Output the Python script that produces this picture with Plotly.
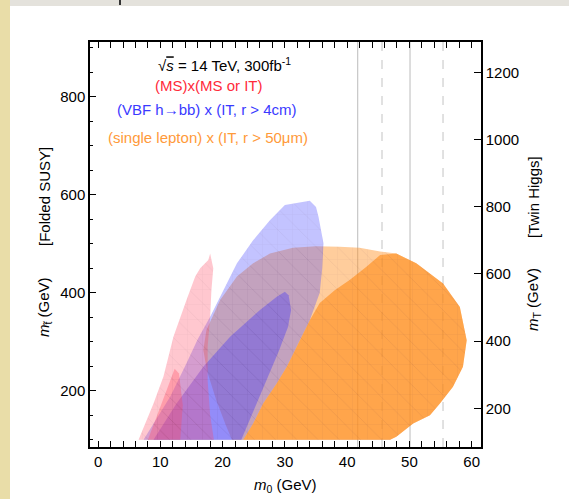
import plotly.graph_objects as go

# ---- reach regions in the (m0, m_stop) plane ----
# (MS)x(MS or IT): outer and inner contours
red_outer_x = [6.5, 8.9, 10.5, 12.1, 14.2, 15.6, 16.4, 17.7, 18.0, 18.5, 18.2, 18.0, 17.6, 17.6, 18.0, 18.6]
red_outer_y = [100, 174, 229, 310, 385, 433, 450, 467, 480, 450, 405, 351, 290, 220, 150, 100]
red_inner_x = [8.0, 9.5, 11.0, 12.3, 13.0, 13.6, 13.2]
red_inner_y = [100, 150, 200, 245, 235, 170, 100]

# (VBF h->bb) x (IT, r > 4cm)
blue_outer_x = [7.3, 9.5, 11.6, 14.2, 16.0, 18.0, 20.1, 22.3, 24.9, 27.6, 30.0, 32.0, 34.0, 35.0, 35.4,
                36.2, 36.0, 35.6, 34.0, 32.4, 30.3, 28.7, 26.5, 24.9, 23.3]
blue_outer_y = [100, 145, 188, 256, 305, 351, 405, 460, 507, 548, 579, 583, 588, 575, 555,
                501, 450, 400, 344, 303, 249, 215, 174, 133, 100]
blue_inner_x = [8.9, 12.6, 16.9, 21.2, 26.0, 28.7, 30.0, 30.6, 31.0, 30.5, 29.0, 27.0, 25.0, 23.0]
blue_inner_y = [100, 174, 249, 310, 365, 392, 402, 395, 365, 330, 280, 220, 160, 100]

# (single lepton) x (IT, r > 50 um)
orange_outer_x = [21.5, 20.5, 19.0, 17.5, 16.9, 17.4, 19.6, 22.3, 24.9, 27.6, 31.3, 35.0, 38.8, 42.0, 45.3,
                  47.9, 51.1, 55.4, 58.1, 59.2, 58.6, 57.0, 54.9, 53.3, 50.6, 47.9, 46.9]
orange_outer_y = [100, 130, 180, 240, 283, 324, 385, 433, 460, 480, 492, 495, 494, 492, 484,
                  480, 460, 419, 371, 303, 249, 208, 174, 150, 133, 106, 100]
orange_inner_x = [23.3, 24.9, 26.5, 28.7, 30.3, 32.4, 34.0, 35.6, 38.0, 40.4, 43.0, 45.3, 47.9, 51.1,
                  55.4, 58.1, 59.2, 58.6, 57.0, 54.9, 53.3, 50.6, 47.9, 46.9]
orange_inner_y = [100, 133, 174, 215, 249, 303, 344, 379, 405, 426, 452, 477, 480, 460,
                  419, 371, 303, 249, 208, 174, 150, 133, 106, 100]

# reference m0 values (solid and dashed guide lines)
solid_lines = [41.7, 50.1]
dashed_lines = [45.6, 55.4]

x_ticks = [0, 10, 20, 30, 40, 50, 60]
left_ticks = [200, 400, 600, 800]
right_ticks = [200, 400, 600, 800, 1000, 1200]

FONT = "Liberation Sans, Arial, sans-serif"
FS = 15

fig = go.Figure()


def region(xs, ys, color):
    cx, cy = xs + xs[:1], ys + ys[:1]
    fig.add_trace(go.Scatter(
        x=cx, y=cy, mode="lines", line=dict(width=0),
        fill="toself", fillcolor=color,
        fillpattern=dict(shape="\\", fillmode="overlay", bgcolor=color,
                         fgcolor="rgba(60,30,60,0.13)", size=15, solidity=0.05),
        hoverinfo="skip", showlegend=False))
    # faint triangulation mesh (horizontal / vertical)
    fig.add_trace(go.Scatter(
        x=cx, y=cy, mode="lines", line=dict(width=0),
        fill="toself", fillcolor="rgba(0,0,0,0)",
        fillpattern=dict(shape="+", fillmode="replace", bgcolor="rgba(0,0,0,0)",
                         fgcolor="rgba(60,30,60,0.07)", size=15, solidity=0.05),
        hoverinfo="skip", showlegend=False))


# orange first, blue above it, red on top
region(orange_outer_x, orange_outer_y, "rgba(255,145,35,0.45)")
region(orange_inner_x, orange_inner_y, "rgba(255,142,30,0.64)")
region(blue_outer_x, blue_outer_y, "rgba(80,80,255,0.34)")
region(blue_inner_x, blue_inner_y, "rgba(80,65,240,0.42)")
region(red_outer_x, red_outer_y, "rgba(255,70,95,0.30)")
region(red_inner_x, red_inner_y, "rgba(255,70,95,0.32)")

# right-hand axis (Twin Higgs m_T) carrier
fig.add_trace(go.Scatter(x=[0], y=[right_ticks[0]], yaxis="y2", mode="markers",
                         marker=dict(opacity=0), hoverinfo="skip", showlegend=False))

for xv in solid_lines:
    fig.add_vline(x=xv, line=dict(color="rgba(170,170,170,0.8)", width=1), layer="below")
for xv in dashed_lines:
    fig.add_vline(x=xv, line=dict(color="rgba(180,180,180,0.8)", width=1, dash="dash"), layer="below")

fig.update_layout(
    width=569, height=499,
    margin=dict(l=90, r=88, t=42, b=52),
    paper_bgcolor="white", plot_bgcolor="white",
    font=dict(family=FONT, size=FS, color="black"),
    xaxis=dict(range=[-1.3, 61.5], tickvals=x_ticks, ticks="inside", ticklen=6, tickwidth=1,
               tickcolor="black", showline=True, linecolor="black", linewidth=1.5,
               mirror="allticks", showgrid=False, zeroline=False,
               minor=dict(dtick=2, tick0=0, ticks="inside", ticklen=3, tickcolor="black", showgrid=False)),
    yaxis=dict(range=[85, 912], tickvals=left_ticks, ticks="inside", ticklen=6, tickwidth=1,
               tickcolor="black", showline=True, linecolor="black", linewidth=1.5,
               showgrid=False, zeroline=False,
               minor=dict(dtick=50, tick0=0, ticks="inside", ticklen=3, tickcolor="black", showgrid=False)),
    yaxis2=dict(range=[85, 1290], tickvals=right_ticks, overlaying="y", side="right",
                ticks="inside", ticklen=7, tickwidth=1, tickcolor="black",
                showline=True, linecolor="black", linewidth=1.5, showgrid=False, zeroline=False),
)


def px_to_paper(px, py):
    return (px - 90) / 391, (447 - py) / 405


def note(text, px, py, color="black", angle=0, size=FS):
    xp, yp = px_to_paper(px, py)
    fig.add_annotation(x=xp, y=yp, xref="paper", yref="paper", text=text, showarrow=False,
                       textangle=angle, font=dict(family=FONT, size=size, color=color),
                       xanchor="center", yanchor="middle")


note("√<span style='text-decoration:overline'><i>s</i></span> = 14 TeV, 300fb<sup>-1</sup>", 224, 64)
note("(MS)x(MS or IT)", 208, 85, color="#ff2a3a")
note("(VBF h→bb) x (IT, r > 4cm)", 207, 110, color="#3a3aff")
note("(single lepton) x (IT, r > 50μm)", 208, 137, color="#ff9a3a")

note("<i>m</i><sub>0</sub> (GeV)", 285, 485)
note("[Folded SUSY]", 44, 197, angle=-90)
note("<i>m</i><sub>t̃</sub> (GeV)", 44, 307, angle=-90)
note("[Twin Higgs]", 533, 197, angle=-90)
note("<i>m</i><sub>T</sub> (GeV)", 533, 300, angle=-90)

# page frame: tinted left strip and grey top strip
fig.add_shape(type="rect", xref="paper", yref="paper", x0=-90 / 391, x1=-80 / 391,
              y0=-52 / 405, y1=447 / 405, fillcolor="#e9dda8", line=dict(width=0), layer="below")
fig.add_shape(type="rect", xref="paper", yref="paper", x0=-80 / 391, x1=479 / 391,
              y0=441 / 405, y1=447 / 405, fillcolor="#e4e2dc", line=dict(width=0), layer="below")
fig.add_shape(type="line", xref="paper", yref="paper", x0=30 / 391, x1=30 / 391,
              y0=442 / 405, y1=447 / 405, line=dict(color="#333333", width=2))

fig.write_html("out.html")
